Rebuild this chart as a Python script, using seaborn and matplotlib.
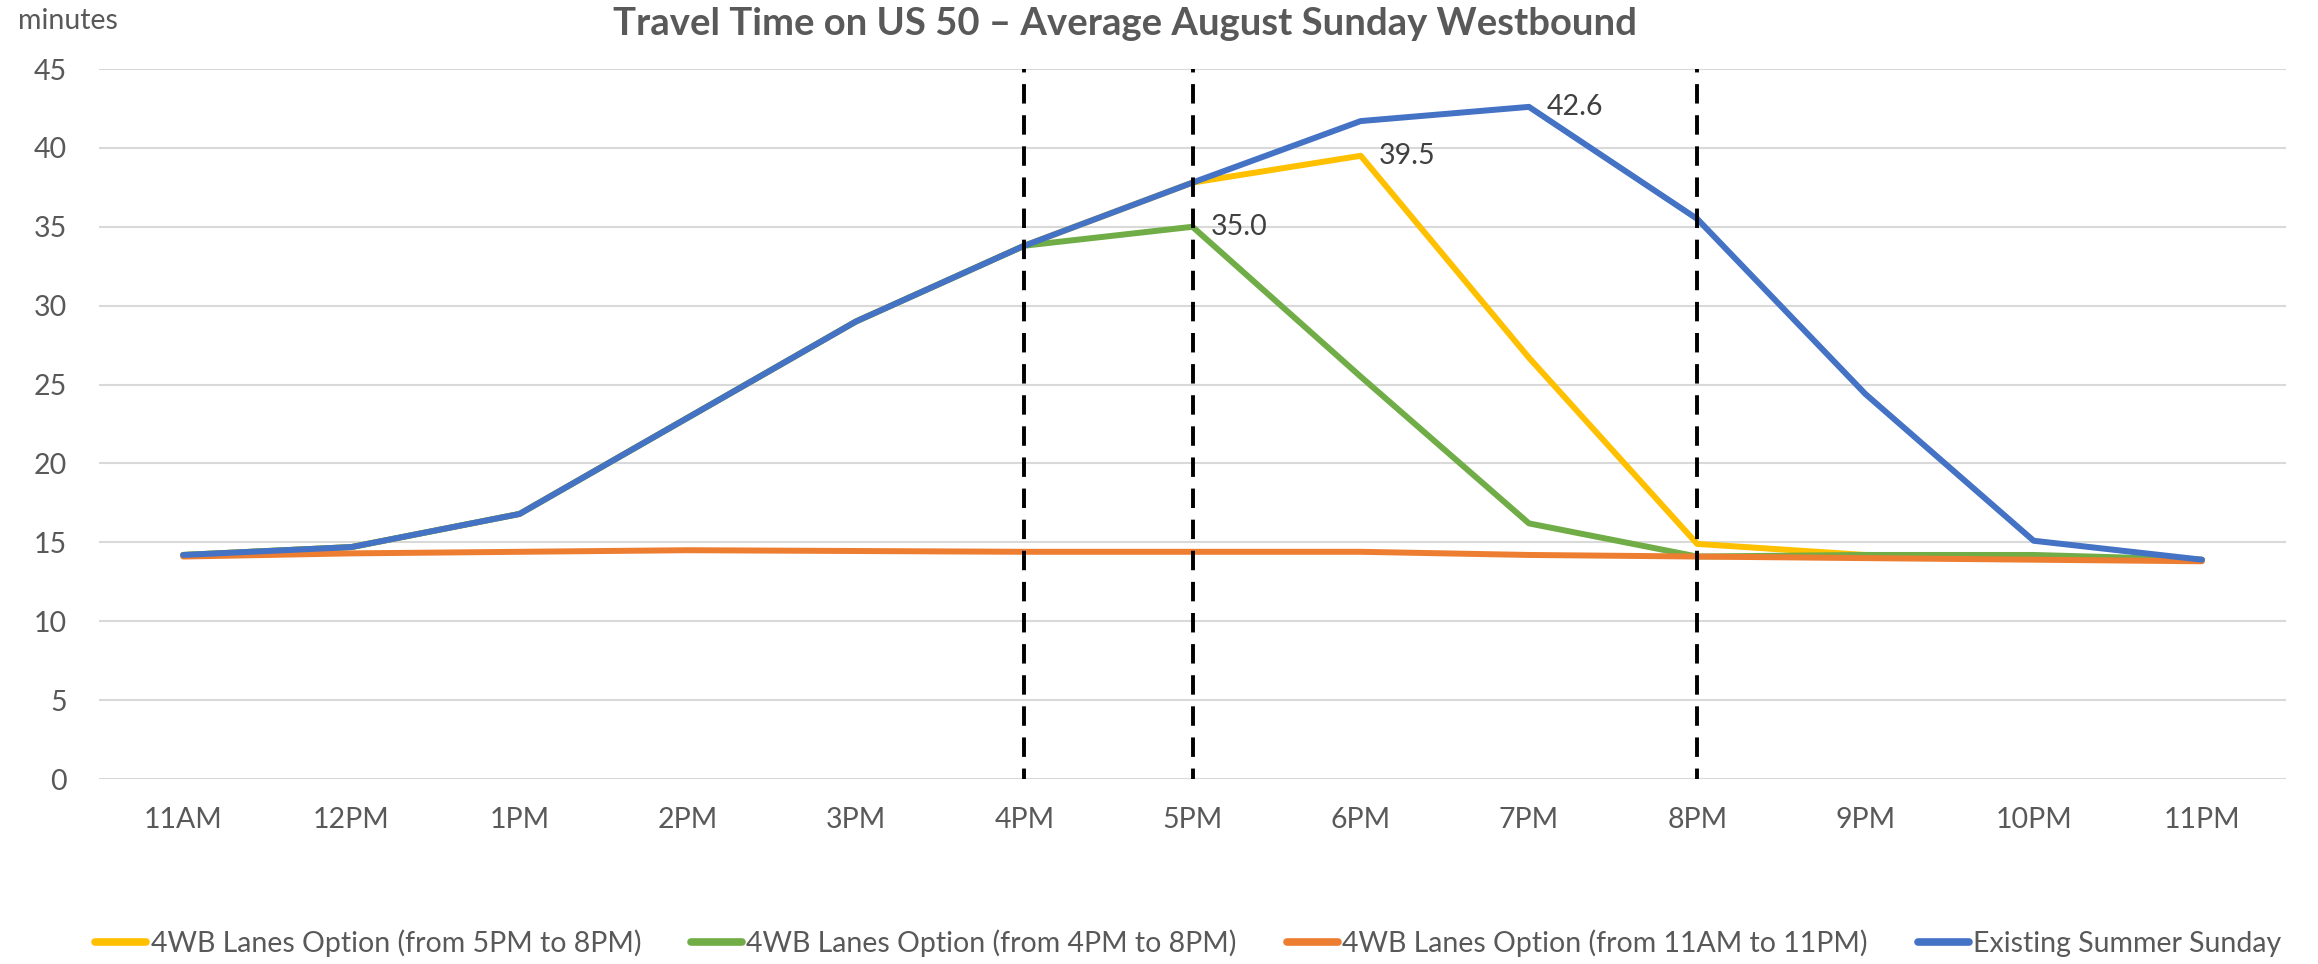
import numpy as np
import pandas as pd
import matplotlib
matplotlib.use("Agg")
import matplotlib.pyplot as plt
import seaborn as sns

# data (minutes)
hours = ['11AM', '12PM', '1PM', '2PM', '3PM', '4PM', '5PM', '6PM', '7PM', '8PM', '9PM', '10PM', '11PM']
opt_5_to_8 = [14.2, 14.7, 16.8, 22.9, 29.0, 33.8, 37.8, 39.5, 26.7, 14.9, 14.2, 14.1, 13.9]
opt_4_to_8 = [14.2, 14.7, 16.8, 22.9, 29.0, 33.8, 35.0, 25.5, 16.2, 14.1, 14.2, 14.2, 13.9]
opt_11_to_11 = [14.1, 14.3, 14.4, 14.5, 14.45, 14.4, 14.4, 14.4, 14.2, 14.1, 14.0, 13.9, 13.8]
existing = [14.2, 14.7, 16.8, 22.9, 29.0, 33.8, 37.8, 41.7, 42.6, 35.5, 24.4, 15.1, 13.9]
divider_hours = ['4PM', '5PM', '8PM']

series = [
    ('4WB Lanes Option (from 5PM to 8PM)', opt_5_to_8, '#FFC000'),
    ('4WB Lanes Option (from 4PM to 8PM)', opt_4_to_8, '#70AD47'),
    ('4WB Lanes Option (from 11AM to 11PM)', opt_11_to_11, '#ED7D31'),
    ('Existing Summer Sunday', existing, '#4472C4'),
]
# (series index, hour) of the labelled peaks
peak_labels = [(0, '6PM'), (1, '5PM'), (3, '7PM')]

sns.set_theme(style="white")
plt.rcParams['font.family'] = ['Lato', 'DejaVu Sans']
txt = '#595959'
fs = 20.5

fig = plt.figure(figsize=(23.18, 9.64), dpi=100)
ax = fig.add_axes([99 / 2318, 1 - 779 / 964, (2286 - 99) / 2318, (779 - 69) / 964])

for name, vals, col in series:
    df = pd.DataFrame({'hour': hours, 'minutes': vals})
    sns.lineplot(data=df, x='hour', y='minutes', color=col, lw=4.3, ax=ax,
                 label=name, legend=False, sort=False)

xpos = [hours.index(h) for h in divider_hours]
ax.vlines(xpos, -0.6, 45, colors='black', linestyles=(0, (5, 3)), lw=2.8, zorder=5)

for si, h in peak_labels:
    v = series[si][1][hours.index(h)]
    ax.annotate(f'{v:.1f}', (hours.index(h), v), xytext=(13, 0), textcoords='offset points',
                va='center', ha='left', fontsize=fs, color='#404040')

ax.set_xlim(-0.5, len(hours) - 0.5)
ax.set_ylim(0, 45)
ax.set_yticks(np.arange(0, 46, 5))
ax.grid(axis='y', color='#D9D9D9', lw=1.5)
ax.set_axisbelow(True)
for s in ax.spines.values():
    s.set_visible(False)
ax.tick_params(axis='x', length=0, pad=20, labelsize=fs, labelcolor=txt)
ax.tick_params(axis='y', length=0, pad=23, labelsize=fs, labelcolor=txt)
ax.set_xlabel('')
ax.set_ylabel('')

fig.text(18 / 2318, 1 - 21 / 964, 'minutes', fontsize=fs, color=txt, ha='left', va='center')
fig.text(1125 / 2318, 1 - 24 / 964, 'Travel Time on US 50 \u2013 Average August Sunday Westbound',
         fontsize=27.5, fontweight='bold', color=txt, ha='center', va='center')

handles = ax.get_lines()[:len(series)]
leg = fig.legend(handles, [s[0] for s in series], loc='center', ncol=4,
                 bbox_to_anchor=(0.5126, 1 - 943 / 964), frameon=False, fontsize=fs,
                 handlelength=1.8, handletextpad=0.15, columnspacing=1.75)
for t in leg.get_texts():
    t.set_color(txt)
for l in leg.get_lines():
    l.set_linewidth(5.5)

fig.savefig('out.png', dpi=100)
